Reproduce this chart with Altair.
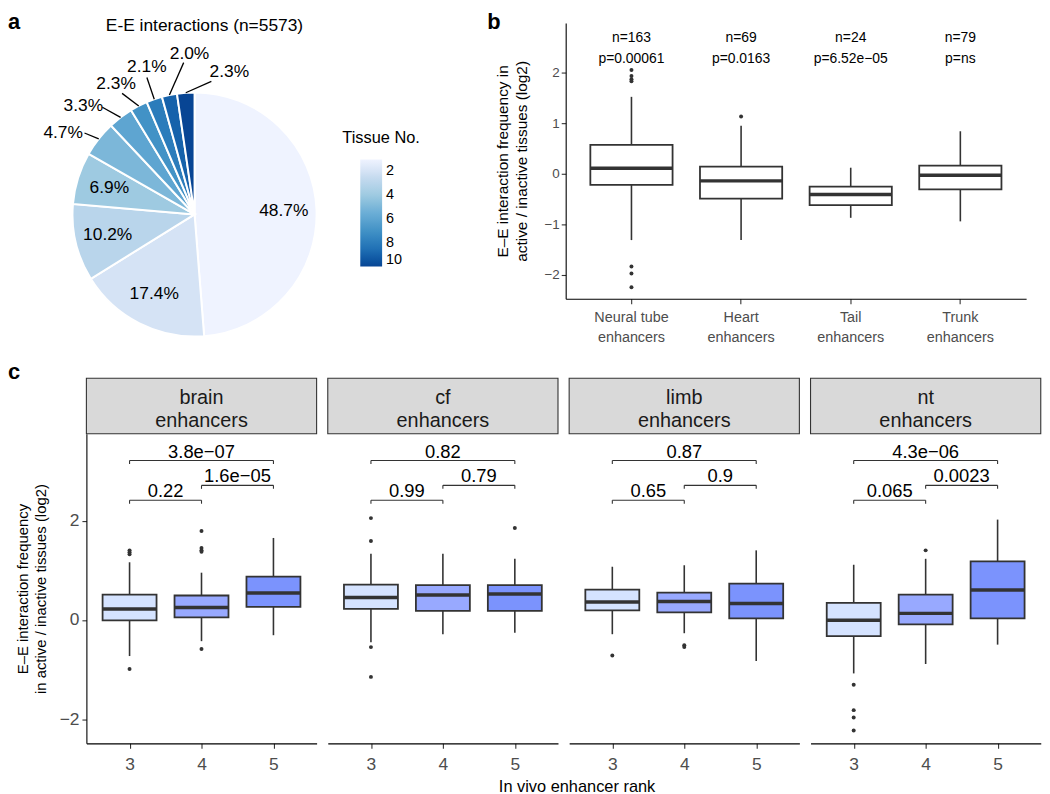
import altair as alt
import pandas as pd

FONT = "Liberation Sans"
INK = "#333333"
GREY = "#4d4d4d"

# ---------------- panel a : pie ----------------
tissue_no = [1, 2, 3, 4, 5, 6, 7, 8, 9, 10]
tissue_pct = [48.7, 17.4, 10.2, 6.9, 4.7, 3.3, 2.3, 2.1, 2.0, 2.3]
pie_title = "E-E interactions (n=5573)"
legend_title = "Tissue No."
legend_ticks = [2, 4, 6, 8, 10]
blues = ["#eff3ff", "#c6dbef", "#9ecae1", "#6baed6", "#4292c6", "#2171b5", "#084594"]
blues_stops = [1, 2.5, 4, 5.5, 7, 8.5, 10]

# repelled label layout for the thin slices: angle (deg, clockwise from 12 o'clock), distance (px)
NA = None
lead_ang = [NA, NA, NA, NA, 306.5, 319.3, 329.1, 340.8, 355.9, 7.2]
lead_rad = [NA, NA, NA, NA, 138, 142.5, 142.2, 146.1, 153.4, 135.1]
text_ang = [NA, NA, NA, NA, 301.8, 314.2, 328.9, 342.1, 358.2, 13.7]
text_rad = [NA, NA, NA, NA, 155.8, 156.3, 153, 156.5, 162.1, 148.2]

R = 123          # pie radius
R_IN = 90        # radius of in-slice labels
PIE_W, PIE_H = 246, 278
PCX, PCY = 109, 193   # pie centre inside its view

# ---------------- panel b ----------------
b_groups = ["Neural tube\nenhancers", "Heart\nenhancers", "Tail\nenhancers", "Trunk\nenhancers"]
b_n = [163, 69, 24, 79]
b_p = ["0.00061", "0.0163", "6.52e\u221205", "ns"]
b_lower = [-1.31, -1.31, -0.87, -0.94]
b_q1 = [-0.22, -0.49, -0.62, -0.31]
b_median = [0.11, -0.14, -0.41, -0.03]
b_q3 = [0.57, 0.14, -0.255, 0.16]
b_upper = [1.52, 0.95, 0.12, 0.84]
b_outliers = [[2.05, 1.93, 1.87, 1.83, -1.83, -1.97, -2.24], [1.13], [], []]

# ---------------- panel c ----------------
c_panels = ["brain", "cf", "limb", "nt"]
c_ranks = [3, 4, 5]
c_lower = [[-0.73, -0.43, -0.31], [-0.45, -0.29, -0.26], [-0.29, -0.27, -0.83], [-1.08, -0.89, -0.50]]
c_q1 = [[-0.01, 0.05, 0.26], [0.22, 0.18, 0.18], [0.19, 0.15, 0.03], [-0.33, -0.09, 0.03]]
c_median = [[0.22, 0.25, 0.54], [0.45, 0.50, 0.52], [0.36, 0.37, 0.33], [-0.01, 0.13, 0.60]]
c_q3 = [[0.51, 0.49, 0.87], [0.71, 0.70, 0.70], [0.61, 0.55, 0.73], [0.34, 0.51, 1.18]]
c_upper = [[1.16, 0.95, 1.65], [1.33, 1.33, 1.23], [1.07, 1.10, 1.40], [1.11, 1.23, 2.02]]
c_outliers = [
    [[1.32, 1.36, 1.40, -0.99], [1.79, 1.45, 1.40, 1.37, -0.59], []],
    [[2.05, 1.59, -0.55, -1.15], [], [1.85]],
    [[-0.72], [-0.51, -0.55], []],
    [[-1.31, -1.82, -1.97, -2.23], [1.40], []],
]
c_pair_from = [3, 4, 3]
c_pair_to = [4, 5, 5]
c_bracket_y = [2.41, 2.71, 3.21]
c_pvalues = [["0.22", "1.6e\u221205", "3.8e\u221207"], ["0.99", "0.79", "0.82"],
             ["0.65", "0.9", "0.87"], ["0.065", "0.0023", "4.3e\u221206"]]
c_rank_fill = ["#d5e3ff", "#98a9ff", "#7b93fd"]


def letter(t, x, y):
    return alt.Chart(pd.DataFrame({"t": [t]})).mark_text(
        font=FONT, fontSize=22, fontWeight="bold", align="left", baseline="alphabetic", color="black"
    ).encode(text="t:N", x=alt.value(x), y=alt.value(y))


# ================= panel a =================
pie_df = pd.DataFrame({"tissue": tissue_no, "pct": tissue_pct,
                       "la": lead_ang, "lr": lead_rad, "ta": text_ang, "tr": text_rad})

pie_src = alt.Chart(pie_df).transform_joinaggregate(total="sum(pct)").transform_window(
    cum="sum(pct)", sort=[alt.SortField("tissue", order="ascending")], frame=[None, 0]
).transform_calculate(
    mid="(datum.cum - datum.pct / 2) / datum.total * 2 * PI",
    label="format(datum.pct, '.1f') + '%'",
)


def px(r, a):
    return f"{PCX} + ({r}) * sin({a})"


def py(r, a):
    return f"{PCY} - ({r}) * cos({a})"


def pxy(f):
    return alt.X(f"{f}:Q", scale=None, axis=None)


def pyy(f):
    return alt.Y(f"{f}:Q", scale=None, axis=None)


# legend reads light (2) at the top to dark (10) at the bottom -> encode the negated tissue number
arcs = alt.Chart(pie_df).transform_calculate(neg="-datum.tissue").mark_arc(
    outerRadius=R, stroke="white", strokeWidth=2
).encode(
    theta=alt.Theta("pct:Q", stack=True),
    order=alt.Order("tissue:Q", sort="ascending"),
    x=alt.value(PCX), y=alt.value(PCY),
    color=alt.Color(
        "neg:Q",
        scale=alt.Scale(domain=[-v for v in blues_stops][::-1], range=blues[::-1]),
        legend=alt.Legend(
            title=legend_title, orient="none", legendX=258, legendY=108, direction="vertical",
            gradientLength=108, gradientThickness=22, values=[-v for v in legend_ticks],
            labelExpr="format(-datum.value, 'd')",
            labelFontSize=14.5, labelColor="black", labelFont=FONT, labelOffset=4,
            titleFontSize=16.5, titleColor="black", titleFontWeight="normal", titleFont=FONT,
            titlePadding=13, titleAnchor="middle", gradientStrokeWidth=0, padding=0,
        ),
    ),
)

inner = pie_src.transform_filter("!isValid(datum.la)").transform_calculate(
    lx=px(R_IN, "datum.mid"), ly=py(R_IN, "datum.mid")
).mark_text(font=FONT, fontSize=17.5, color="black", baseline="middle").encode(
    x=pxy("lx"), y=pyy("ly"), text="label:N")

leaders = pie_src.transform_filter("isValid(datum.la)").transform_calculate(
    x1=px(R, "datum.mid"), y1=py(R, "datum.mid"),
    x2=px("datum.lr", "datum.la * PI / 180"), y2=py("datum.lr", "datum.la * PI / 180"),
).mark_rule(color="black", strokeWidth=1.3).encode(
    x=pxy("x1"), y=pyy("y1"), x2="x2:Q", y2="y2:Q")

outer = pie_src.transform_filter("isValid(datum.la)").transform_calculate(
    lx=px("datum.tr", "datum.ta * PI / 180"), ly=py("datum.tr", "datum.ta * PI / 180")
).mark_text(font=FONT, fontSize=17.5, color="black", baseline="middle").encode(
    x=pxy("lx"), y=pyy("ly"), text="label:N")

pie_head = alt.Chart(pd.DataFrame({"t": [pie_title]})).mark_text(
    font=FONT, fontSize=17.5, baseline="alphabetic", color="black"
).encode(text="t:N", x=alt.value(119), y=alt.value(8))

pie = alt.layer(arcs, inner, leaders, outer, pie_head, letter("a", -79, 6.6)).properties(
    width=PIE_W, height=PIE_H)

# ================= panel b =================
b_df = pd.DataFrame({"grp": b_groups, "lo": b_lower, "q1": b_q1, "med": b_median,
                     "q3": b_q3, "hi": b_upper,
                     "n": [f"n={v}" for v in b_n], "p": [f"p={v}" for v in b_p]})
b_out = pd.DataFrame([{"grp": g, "v": v} for g, vs in zip(b_groups, b_outliers) for v in vs])

B_W, B_H = 464, 278
BX_SCALE = alt.Scale(paddingInner=0.25, paddingOuter=0.225)
BY_SCALE = alt.Scale(domain=[-2.47, 2.98], nice=False, zero=False)
B_XAXIS = alt.Axis(title=None, labelAngle=0, labelExpr="split(datum.label, '\\n')",
                   labelFontSize=14.5, labelLineHeight=20, labelColor=GREY, labelPadding=7,
                   tickSize=5, labelOverlap=False)
B_YAXIS = alt.Axis(values=[-2, -1, 0, 1, 2],
                   title=["E\u2013E interaction frequency in", "active / inactive tissues (log2)"],
                   titleFontSize=15.5, titleLineHeight=19, titlePadding=15,
                   labelFontSize=13.5, labelColor=GREY, tickSize=4.5, labelPadding=2)

bx = alt.X("grp:N", sort=b_groups, scale=BX_SCALE, axis=B_XAXIS)


def by(f):
    return alt.Y(f"{f}:Q", scale=BY_SCALE, axis=B_YAXIS)


bb = alt.Chart(b_df)
b_step = B_W / (len(b_groups) - 0.25 + 2 * 0.225)
b_layers = [
    bb.mark_rule(color=INK, strokeWidth=1.6).encode(x=bx, y=by("q3"), y2="hi:Q"),
    bb.mark_rule(color=INK, strokeWidth=1.6).encode(x=bx, y=by("lo"), y2="q1:Q"),
    bb.mark_bar(fill="white", stroke=INK, strokeWidth=1.8).encode(x=bx, y=by("q1"), y2="q3:Q"),
    bb.mark_tick(color=INK, thickness=3.5, size=0.75 * b_step, opacity=1).encode(x=bx, y=by("med")),
    alt.Chart(b_out).mark_circle(size=16, color=INK, opacity=1).encode(x=bx, y=by("v")),
    bb.mark_text(font=FONT, fontSize=14, color="black").encode(
        x=bx, y=alt.Y(datum=2.69, scale=BY_SCALE, axis=B_YAXIS), text="n:N"),
    bb.mark_text(font=FONT, fontSize=14, color="black").encode(
        x=bx, y=alt.Y(datum=2.27, scale=BY_SCALE, axis=B_YAXIS), text="p:N"),
    letter("b", -79, 6.6),
]
panel_b = alt.layer(*b_layers).properties(width=B_W, height=B_H)

# ================= panel c =================
C_W, C_H = 232, 312
CX = alt.Scale(domain=[2.4, 5.6], nice=False, zero=False)
CY = alt.Scale(domain=[-2.49, 3.75], nice=False, zero=False)


def c_panel(k):
    name = c_panels[k]
    xaxis = alt.Axis(values=c_ranks, title=("In vivo enhancer rank" if k == 1 else None),
                     labelFontSize=17.5, labelColor=GREY, labelPadding=7, tickSize=5,
                     titleFontSize=16.5, titleX=250.7, titleY=44, titleBaseline="middle",
                     titleAlign="center")
    if k == 0:
        yaxis = alt.Axis(values=[-2, 0, 2],
                         title=["E\u2013E interaction frequency", "in active / inactive tissues (log2)"],
                         titleFontSize=15, titleLineHeight=18, titlePadding=11,
                         labelFontSize=17.5, labelColor=GREY, tickSize=4.5, labelPadding=3)
    else:
        yaxis = None

    def xq(f):
        return alt.X(f"{f}:Q", scale=CX, axis=xaxis)

    def yq(f):
        return alt.Y(f"{f}:Q", scale=CY, axis=yaxis)

    box_df = pd.DataFrame({"rank": c_ranks, "lo": c_lower[k], "q1": c_q1[k], "med": c_median[k],
                           "q3": c_q3[k], "hi": c_upper[k]})
    out_df = pd.DataFrame([{"rank": r, "v": v} for r, vs in zip(c_ranks, c_outliers[k]) for v in vs])
    br_df = pd.DataFrame({"a": c_pair_from, "b": c_pair_to, "yb": c_bracket_y, "p": c_pvalues[k]})

    base = alt.Chart(box_df).transform_calculate(xl="datum.rank - 0.375", xr="datum.rank + 0.375")
    br = alt.Chart(br_df)
    strip_df = pd.DataFrame({"s": [f"{name}\nenhancers"]})

    layers = [
        alt.Chart(strip_df).mark_rect(fill="#d9d9d9", stroke=INK, strokeWidth=1.1).encode(
            x=alt.value(0), x2=alt.value(C_W), y=alt.value(-56), y2=alt.value(0)),
        alt.Chart(strip_df).mark_text(font=FONT, fontSize=20, lineBreak="\n", lineHeight=23,
                                      baseline="middle", color="#1a1a1a").encode(
            text="s:N", x=alt.value(C_W / 2), y=alt.value(-36)),
        base.mark_rule(color=INK, strokeWidth=1.6).encode(x=xq("rank"), y=yq("q3"), y2="hi:Q"),
        base.mark_rule(color=INK, strokeWidth=1.6).encode(x=xq("rank"), y=yq("lo"), y2="q1:Q"),
        base.mark_bar(stroke=INK, strokeWidth=1.8).encode(
            x=xq("xl"), x2="xr:Q", y=yq("q1"), y2="q3:Q",
            fill=alt.Fill("rank:N", scale=alt.Scale(domain=c_ranks, range=c_rank_fill), legend=None)),
        base.mark_rule(color=INK, strokeWidth=3.5).encode(x=xq("xl"), x2="xr:Q", y=yq("med")),
        br.mark_rule(color=INK, strokeWidth=1.1).encode(x=xq("a"), x2="b:Q", y=yq("yb")),
        br.transform_calculate(yt="datum.yb - 0.07").mark_rule(color=INK, strokeWidth=1.1).encode(
            x=xq("a"), y=yq("yb"), y2="yt:Q"),
        br.transform_calculate(yt="datum.yb - 0.07").mark_rule(color=INK, strokeWidth=1.1).encode(
            x=xq("b"), y=yq("yb"), y2="yt:Q"),
        br.transform_calculate(xm="(datum.a + datum.b) / 2").mark_text(
            font=FONT, fontSize=18.5, dy=-9, baseline="middle", color="black").encode(
            x=xq("xm"), y=yq("yb"), text="p:N"),
    ]
    if len(out_df):
        layers.append(alt.Chart(out_df).mark_circle(size=16, color=INK, opacity=1).encode(
            x=xq("rank"), y=yq("v")))
    if k == 0:
        layers.append(letter("c", -79, -55))
    return alt.layer(*layers).properties(width=C_W, height=C_H)


bottom = alt.hconcat(*[c_panel(k) for k in range(4)], spacing=11.25, bounds="flush")
top = alt.hconcat(pie, panel_b, spacing=570 - 87 - PIE_W, bounds="flush")

chart = alt.vconcat(top, bottom, spacing=17).properties(padding=0).configure(
    font=FONT
).configure_view(stroke=None).configure_axis(
    grid=False, domainColor="black", domainWidth=1.1, tickColor=INK, tickWidth=1.1,
    labelFont=FONT, titleFont=FONT, titleColor="black", titleFontWeight="normal"
).configure_legend(labelFont=FONT, titleFont=FONT)

chart.save("out.html", embed_options={"renderer": "svg", "actions": False})
